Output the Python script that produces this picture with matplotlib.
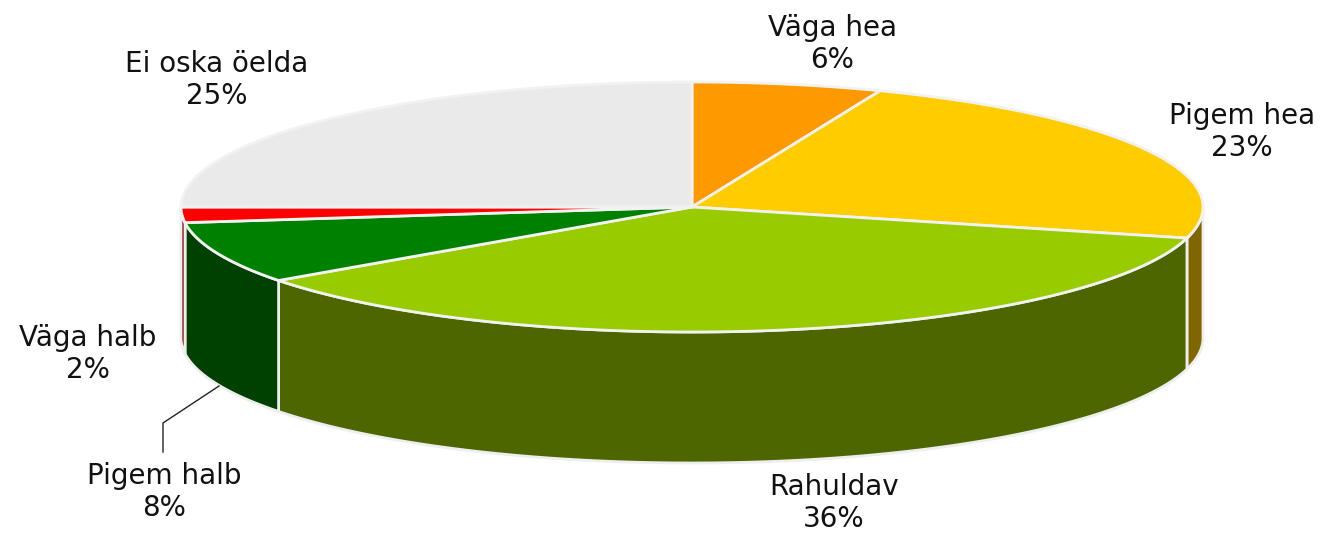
import matplotlib.pyplot as plt
import numpy as np
from matplotlib.patches import Polygon

# data
labels = ["Väga hea", "Pigem hea", "Rahuldav", "Pigem halb", "Väga halb", "Ei oska öelda"]
values = [6, 23, 36, 8, 2, 25]

# styles
top_colors = ["#FF9900", "#FFCC00", "#99CC00", "#008000", "#FF0000", "#EAEAEA"]
side_colors = ["#7F4C00", "#7F6600", "#4D6600", "#004000", "#800000", "#757575"]
label_pos = [(832, 44), (1242, 132), (834, 503), (164, 492), (88, 354), (217, 80)]

# geometry in pixel units
cx, cy, rx, ry, depth = 692, 207, 511, 125, 131


def edge(t0, t1, n=200):
    t = np.radians(np.linspace(t0, t1, n))
    return cx + rx * np.sin(t), cy - ry * np.cos(t)


fig = plt.figure(figsize=(13.25, 5.34), dpi=100)
ax = fig.add_axes([0, 0, 1, 1])
ax.set_xlim(0, 1325)
ax.set_ylim(534, 0)
ax.axis("off")

total = sum(values)
bounds = np.concatenate([[0], np.cumsum(values)]) / total * 360

# side walls (front half only)
for i in range(len(values)):
    a0, a1 = max(bounds[i], 90), min(bounds[i + 1], 270)
    if a1 <= a0:
        continue
    x, y = edge(a0, a1)
    pts = np.column_stack([np.concatenate([x, x[::-1]]),
                           np.concatenate([y, y[::-1] + depth])])
    ax.add_patch(Polygon(pts, closed=True, facecolor=side_colors[i],
                         edgecolor="#EEEEEE", lw=2, zorder=1))

# top faces
for i in range(len(values)):
    x, y = edge(bounds[i], bounds[i + 1])
    pts = np.column_stack([np.concatenate([[cx], x]), np.concatenate([[cy], y])])
    ax.add_patch(Polygon(pts, closed=True, facecolor=top_colors[i],
                         edgecolor="#F2F2F2", lw=2, zorder=2))

# labels
for name, v, (lx, ly) in zip(labels, values, label_pos):
    ax.text(lx, ly, f"{name}\n{v}%", ha="center", va="center", fontsize=20,
            family="DejaVu Sans", color="#111111", linespacing=1.2, zorder=5)

# leader line for Pigem halb
ax.plot([163, 163, 219], [452, 423, 386], color="#222222", lw=1, zorder=4)

fig.savefig("out.png", dpi=100, facecolor="white")
